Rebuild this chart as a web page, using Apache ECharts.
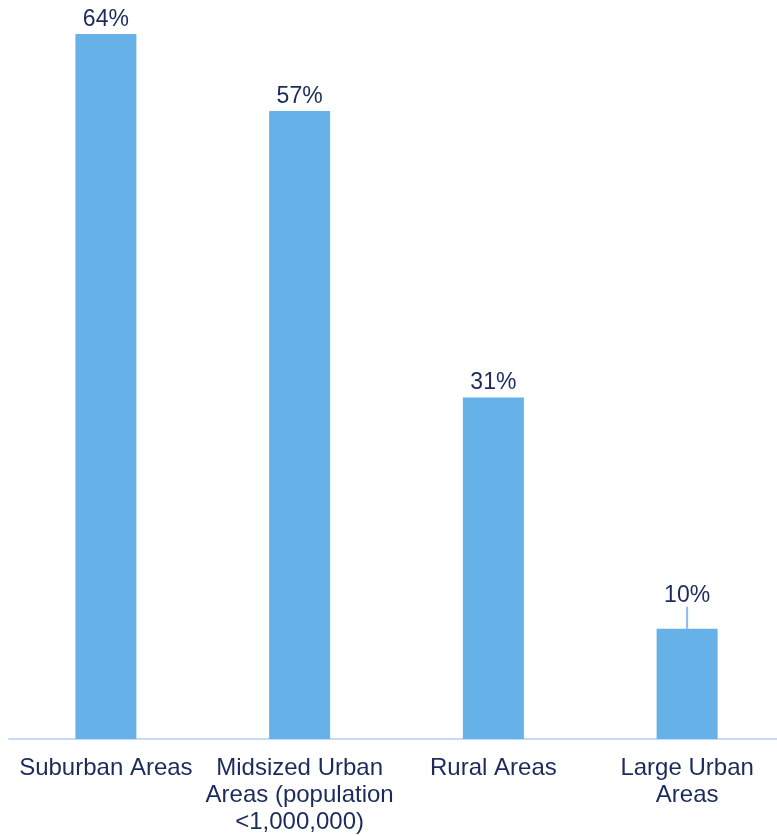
<!DOCTYPE html>
<html>
<head>
<meta charset="utf-8">
<script src="https://cdn.jsdelivr.net/npm/echarts@6/dist/echarts.min.js"></script>
<style>
  html, body { margin: 0; padding: 0; background: #ffffff; }
  #chart { width: 777px; height: 836px; }
</style>
</head>
<body>
<div id="chart"></div>
<script>
// Share of respondents by area type
const categories = [
  'Suburban Areas',
  'Midsized Urban\nAreas (population\n<1,000,000)',
  'Rural Areas',
  'Large Urban\nAreas'
];
const shares = [64, 57, 31, 10];
// Labels lifted above their bar (with a short guide line)
const liftedLabels = [3];

const navy = '#1b2b5c';
const barBlue = '#66b2e8';
const font = "'Liberation Sans', Arial, sans-serif";

const chart = echarts.init(document.getElementById('chart'));
chart.setOption({
  animation: false,
  grid: {
    left: 9, width: 775, top: 34, bottom: 97,
    containLabel: false,
    outerBoundsMode: 'none'
  },
  xAxis: {
    type: 'category',
    data: categories,
    axisTick: { show: false },
    axisLine: { lineStyle: { color: '#c4daf8', width: 2 } },
    axisLabel: {
      interval: 0,
      margin: 16,
      color: navy,
      fontFamily: font,
      fontSize: 24,
      lineHeight: 27
    }
  },
  yAxis: {
    type: 'value',
    min: 0,
    max: 64,
    show: false,
    splitLine: { show: false }
  },
  series: [{
    type: 'bar',
    barWidth: 61,
    data: shares.map((v, i) => ({
      value: v,
      labelLine: liftedLabels.includes(i)
        ? { show: true, lineStyle: { color: '#8db8f2', width: 2 } }
        : { show: false }
    })),
    itemStyle: { color: barBlue },
    label: {
      show: true,
      position: 'top',
      distance: 3,
      formatter: '{c}%',
      color: navy,
      fontFamily: font,
      fontSize: 23
    },
    labelLayout: function (params) {
      return liftedLabels.includes(params.dataIndex) ? { dy: -19 } : {};
    }
  }]
});
</script>
</body>
</html>
